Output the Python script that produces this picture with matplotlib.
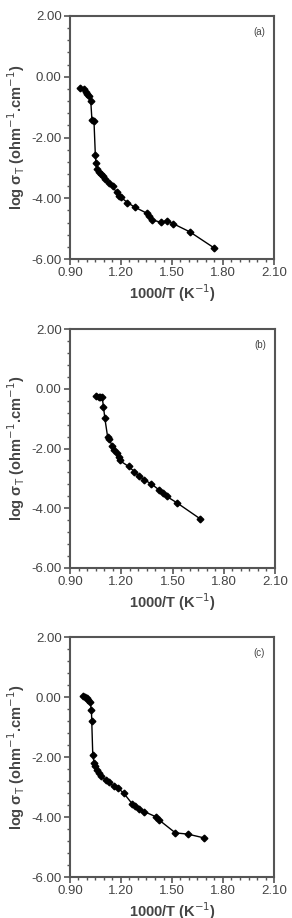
import matplotlib
matplotlib.use("Agg")
import matplotlib.pyplot as plt
from matplotlib.ticker import MultipleLocator, FormatStrFormatter

plt.rcParams['font.family'] = ['Liberation Sans', 'DejaVu Sans']

# Panel (a)
xa = [0.959, 0.982, 0.994, 1.002, 1.010, 1.022, 1.029, 1.041, 1.049, 1.053, 1.057, 1.069,
      1.080, 1.092, 1.108, 1.127, 1.151, 1.174, 1.190, 1.198, 1.237, 1.280, 1.351, 1.363,
      1.382, 1.433, 1.469, 1.508, 1.606, 1.749]
ya = [-0.36, -0.41, -0.49, -0.56, -0.63, -0.79, -1.42, -1.45, -2.57, -2.84, -3.04, -3.12,
      -3.19, -3.28, -3.37, -3.50, -3.61, -3.81, -3.92, -3.96, -4.14, -4.29, -4.49, -4.58,
      -4.71, -4.79, -4.74, -4.84, -5.11, -5.64]

# Panel (b)
xb = [1.053, 1.067, 1.076, 1.088, 1.096, 1.104, 1.120, 1.131, 1.147, 1.159, 1.175, 1.184,
      1.190, 1.243, 1.276, 1.302, 1.335, 1.375, 1.420, 1.445, 1.465, 1.524, 1.661]
yb = [-0.24, -0.26, -0.26, -0.28, -0.60, -0.99, -1.60, -1.69, -1.93, -2.04, -2.16, -2.27,
      -2.40, -2.60, -2.77, -2.91, -3.05, -3.18, -3.38, -3.49, -3.60, -3.81, -4.35]

# Panel (c)
xc = [0.975, 0.989, 0.998, 1.008, 1.018, 1.026, 1.028, 1.034, 1.042, 1.050, 1.057, 1.069,
      1.085, 1.109, 1.132, 1.156, 1.183, 1.215, 1.266, 1.284, 1.304, 1.337, 1.408, 1.422,
      1.520, 1.593, 1.691]
yc = [0.04, -0.01, -0.04, -0.09, -0.18, -0.42, -0.81, -1.94, -2.20, -2.31, -2.42, -2.53,
      -2.62, -2.78, -2.84, -2.98, -3.04, -3.20, -3.56, -3.64, -3.73, -3.82, -4.00, -4.09,
      -4.53, -4.57, -4.70]

panels = [("(a)", xa, ya), ("(b)", xb, yb), ("(c)", xc, yc)]
x_ticks = [0.90, 1.20, 1.50, 1.80, 2.10]
y_ticks = [2.00, 0.00, -2.00, -4.00, -6.00]

W, H = 292, 918
fig = plt.figure(figsize=(W / 100, H / 100), dpi=100)

boxes = [(70, 16, 274, 259), (70, 329, 275, 568), (70, 637, 274, 877)]
spine_col = '#555555'
text_col = '#444444'

for (lab, xs, ys), (l, t, r, b) in zip(panels, boxes):
    ax = fig.add_axes([l / W, 1 - b / H, (r - l) / W, (b - t) / H])
    ax.plot(xs, ys, '-', color='black', lw=1.0, marker='D', ms=3.4,
            mfc='black', mec='black')
    ax.set_xlim(0.90, 2.10)
    ax.set_ylim(-6.0, 2.0)
    ax.set_xticks(x_ticks)
    ax.set_yticks(y_ticks)
    ax.xaxis.set_minor_locator(MultipleLocator(0.05))
    ax.yaxis.set_minor_locator(MultipleLocator(0.4))
    ax.xaxis.set_major_formatter(FormatStrFormatter('%.2f'))
    ax.yaxis.set_major_formatter(FormatStrFormatter('%.2f'))
    for s in ax.spines.values():
        s.set_color(spine_col)
        s.set_linewidth(1.5)
    ax.tick_params(which='major', direction='out', length=4, width=1.2,
                   color=spine_col, labelsize=9.5, labelcolor=text_col, pad=2)
    ax.tick_params(which='minor', direction='out', length=2.5, width=1.0,
                   color=spine_col)
    ax.tick_params(top=False, right=False, which='both')
    ax.set_xlabel('1000/T (K$^{-1}$)', fontsize=10.5, fontweight='bold',
                  color=text_col, labelpad=2)
    ax.set_ylabel('log σ$_\\mathrm{T}$ (ohm$^{-1}$.cm$^{-1}$)', fontsize=10.5,
                  fontweight='bold', color=text_col, labelpad=3)
    ax.text(0.955, 0.955, lab, transform=ax.transAxes, ha='right', va='top',
            fontsize=7, color=text_col)

fig.savefig('out.png', dpi=100)
